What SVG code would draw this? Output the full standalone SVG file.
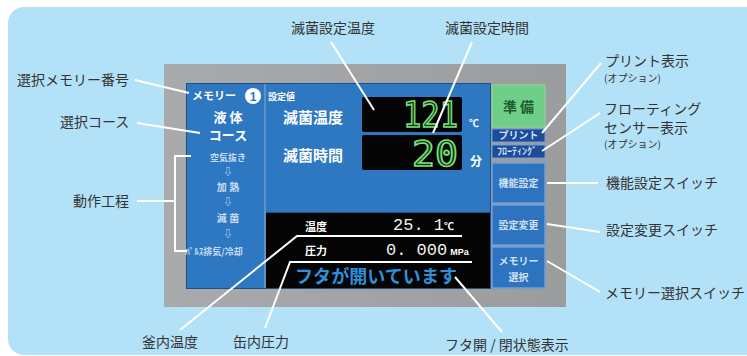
<svg xmlns="http://www.w3.org/2000/svg" width="747" height="356" viewBox="0 0 747 356">
<defs>
<linearGradient id="gray" x1="0" y1="0" x2="1" y2="0">
<stop offset="0" stop-color="#a9aaac"/>
<stop offset="1" stop-color="#9b9c9e"/>
</linearGradient>
<style>
.lbl{font-family:"Noto Sans CJK JP","Noto Sans",sans-serif;font-size:14px;fill:#333;}
.sm{font-family:"Noto Sans CJK JP","Noto Sans",sans-serif;font-size:10px;fill:#333;}
.w{font-family:"Noto Sans CJK JP","Noto Sans",sans-serif;fill:#fff;font-weight:bold;}
.lt{font-family:"Noto Sans CJK JP","Noto Sans",sans-serif;fill:#c9ddf2;font-weight:bold;}
.seg{font-family:"DejaVu Sans Mono","Liberation Mono",monospace;fill:#123a12;stroke:#7be07b;stroke-width:1.6;}
.dig{font-family:"Liberation Mono","DejaVu Sans Mono",monospace;fill:#f2f2f2;}
.btn{fill:#2d73bf;stroke:#6f9fd3;stroke-width:1.5;}
.btd{fill:#1c4c9c;stroke:#6f9fd3;stroke-width:1;}
.bt{font-family:"Noto Sans CJK JP","Noto Sans",sans-serif;fill:#cfe0f2;font-weight:bold;font-size:10px;text-anchor:middle;}
.ln{stroke:#fff;stroke-width:2;fill:none;}
</style>
</defs>
<rect width="747" height="356" fill="#fff"/>
<rect x="8" y="7" width="760" height="348" rx="16" fill="#b3e2f8"/>

<g id="panel">
<rect x="164" y="64" width="402" height="243" fill="url(#gray)"/>
<rect x="186" y="83" width="305" height="206" fill="#1f4f86"/>
<rect x="187" y="84" width="77" height="204" fill="#2e77c1"/>
<rect x="266" y="84" width="224" height="128" fill="#2e77c1"/>
<line x1="265" y1="84" x2="265" y2="288" stroke="#7aa6d6" stroke-width="1.5"/>
<rect x="266" y="213" width="224" height="75" fill="#050505"/>
</g>

<g id="memory-number">
<text class="w" x="192" y="100" font-size="11">メモリー</text>
<circle cx="253" cy="96" r="8" fill="#fff"/>
<text x="253" y="100.5" font-family="Liberation Sans,sans-serif" font-weight="bold" font-size="12" fill="#2e77c1" text-anchor="middle">1</text>
</g>
<g id="course">
<text class="w" x="228" y="122" font-size="13" text-anchor="middle">液 体</text>
<text class="w" x="228" y="140" font-size="13" text-anchor="middle">コース</text>
</g>
<g id="process" text-anchor="middle">
<text class="lt" x="228" y="161" font-size="9">空気抜き</text>
<text class="lt" x="228" y="175" font-size="9">⇩</text>
<text class="lt" x="228" y="191" font-size="10">加 熱</text>
<text class="lt" x="228" y="205" font-size="9">⇩</text>
<text class="lt" x="228" y="222" font-size="10">滅 菌</text>
<text class="lt" x="228" y="237" font-size="9">⇩</text>
<text class="lt" x="214" y="255" font-size="9">ﾊﾟﾙｽ排気/冷却</text>
</g>

<g id="setpoint">
<text class="w" x="268" y="100" font-size="9" font-weight="normal">設定値</text>
<text class="w" x="283" y="123" font-size="15" font-weight="normal">滅菌温度</text>
<text class="w" x="283" y="161" font-size="15" font-weight="normal">滅菌時間</text>
<rect x="362" y="97" width="100" height="35" rx="2" fill="#050505"/>
<rect x="362" y="135" width="100" height="35" rx="2" fill="#050505"/>
<text class="seg" x="403" y="127" font-size="35" textLength="55" lengthAdjust="spacingAndGlyphs">121</text>
<text class="seg" x="412" y="166" font-size="35" textLength="46" lengthAdjust="spacingAndGlyphs">20</text>
<text class="w" x="469" y="127" font-size="10">℃</text>
<text class="w" x="470" y="166" font-size="12" font-weight="normal">分</text>
</g>

<g id="display">
<text class="w" x="305" y="231" font-size="11" font-weight="normal">温度</text>
<text class="dig" x="393" y="230" font-size="17">25. 1<tspan font-size="10" font-family="Noto Sans CJK JP,sans-serif" font-weight="bold" fill="#fff">℃</tspan></text>
<text class="w" x="305" y="255" font-size="11" font-weight="normal">圧力</text>
<text class="dig" x="386" y="255" font-size="17">0. 000<tspan dx="3" font-size="9" font-family="Liberation Sans,sans-serif" font-weight="bold" fill="#fff">MPa</tspan></text>
<text x="295" y="283" font-family="Noto Sans CJK JP,sans-serif" font-weight="bold" font-size="18" fill="#2f90da" textLength="162">フタが開いています</text>
</g>

<g id="buttons">
<rect x="492" y="85" width="53" height="42" fill="#6fcf88" stroke="#8fd8a0"/>
<text x="518.5" y="112" font-family="Noto Sans CJK JP,sans-serif" font-weight="bold" font-size="14" fill="#1e5a2c" text-anchor="middle">準 備</text>
<rect class="btd" x="492" y="129" width="53" height="13"/>
<text class="bt" x="518.5" y="139" font-size="9" fill="#fff">プリント</text>
<rect class="btd" x="492" y="145" width="53" height="13"/>
<text class="bt" x="517" y="155" font-size="8" fill="#fff">ﾌﾛｰﾃｨﾝｸﾞ</text>
<rect class="btn" x="492" y="163" width="53" height="40"/>
<text class="bt" x="518.5" y="187">機能設定</text>
<rect class="btn" x="492" y="205" width="53" height="40"/>
<text class="bt" x="518.5" y="229">設定変更</text>
<rect class="btn" x="492" y="247" width="53" height="41"/>
<text class="bt" x="518.5" y="265">メモリー</text>
<text class="bt" x="518.5" y="281">選択</text>
</g>

<g id="connectors">
<line class="ln" x1="135" y1="80" x2="189" y2="93"/>
<line class="ln" x1="137" y1="123" x2="200" y2="133"/>
<line class="ln" x1="137" y1="201" x2="175" y2="201"/>
<polyline class="ln" points="191,156 175,156 175,251 187,251"/>
<line class="ln" x1="331" y1="42" x2="374" y2="110"/>
<line class="ln" x1="472" y1="42" x2="433" y2="133"/>
<line class="ln" x1="601" y1="63" x2="542" y2="133"/>
<line class="ln" x1="600" y1="113" x2="542" y2="151"/>
<line class="ln" x1="547" y1="183" x2="598" y2="183"/>
<line class="ln" x1="547" y1="224" x2="600" y2="232"/>
<line class="ln" x1="547" y1="261" x2="600" y2="292"/>
<polyline class="ln" points="180,330 297,236 462,236"/>
<polyline class="ln" points="265,328 290,262 472,262"/>
<line class="ln" x1="455" y1="277" x2="502" y2="332"/>
</g>

<g id="labels">
<text class="lbl" x="17" y="85">選択メモリー番号</text>
<text class="lbl" x="60" y="127">選択コース</text>
<text class="lbl" x="73" y="206">動作工程</text>
<text class="lbl" x="291" y="33">滅菌設定温度</text>
<text class="lbl" x="445" y="33">滅菌設定時間</text>
<text class="lbl" x="605" y="66">プリント表示</text>
<text class="sm" x="604" y="82">(オプション)</text>
<text class="lbl" x="604" y="114">フローティング</text>
<text class="lbl" x="604" y="133">センサー表示</text>
<text class="sm" x="604" y="148">(オプション)</text>
<text class="lbl" x="606" y="188">機能設定スイッチ</text>
<text class="lbl" x="606" y="235">設定変更スイッチ</text>
<text class="lbl" x="605" y="298">メモリー選択スイッチ</text>
<text class="lbl" x="142" y="347">釜内温度</text>
<text class="lbl" x="233" y="347">缶内圧力</text>
<text class="lbl" x="445" y="350">フタ開 / 閉状態表示</text>
</g>
</svg>
